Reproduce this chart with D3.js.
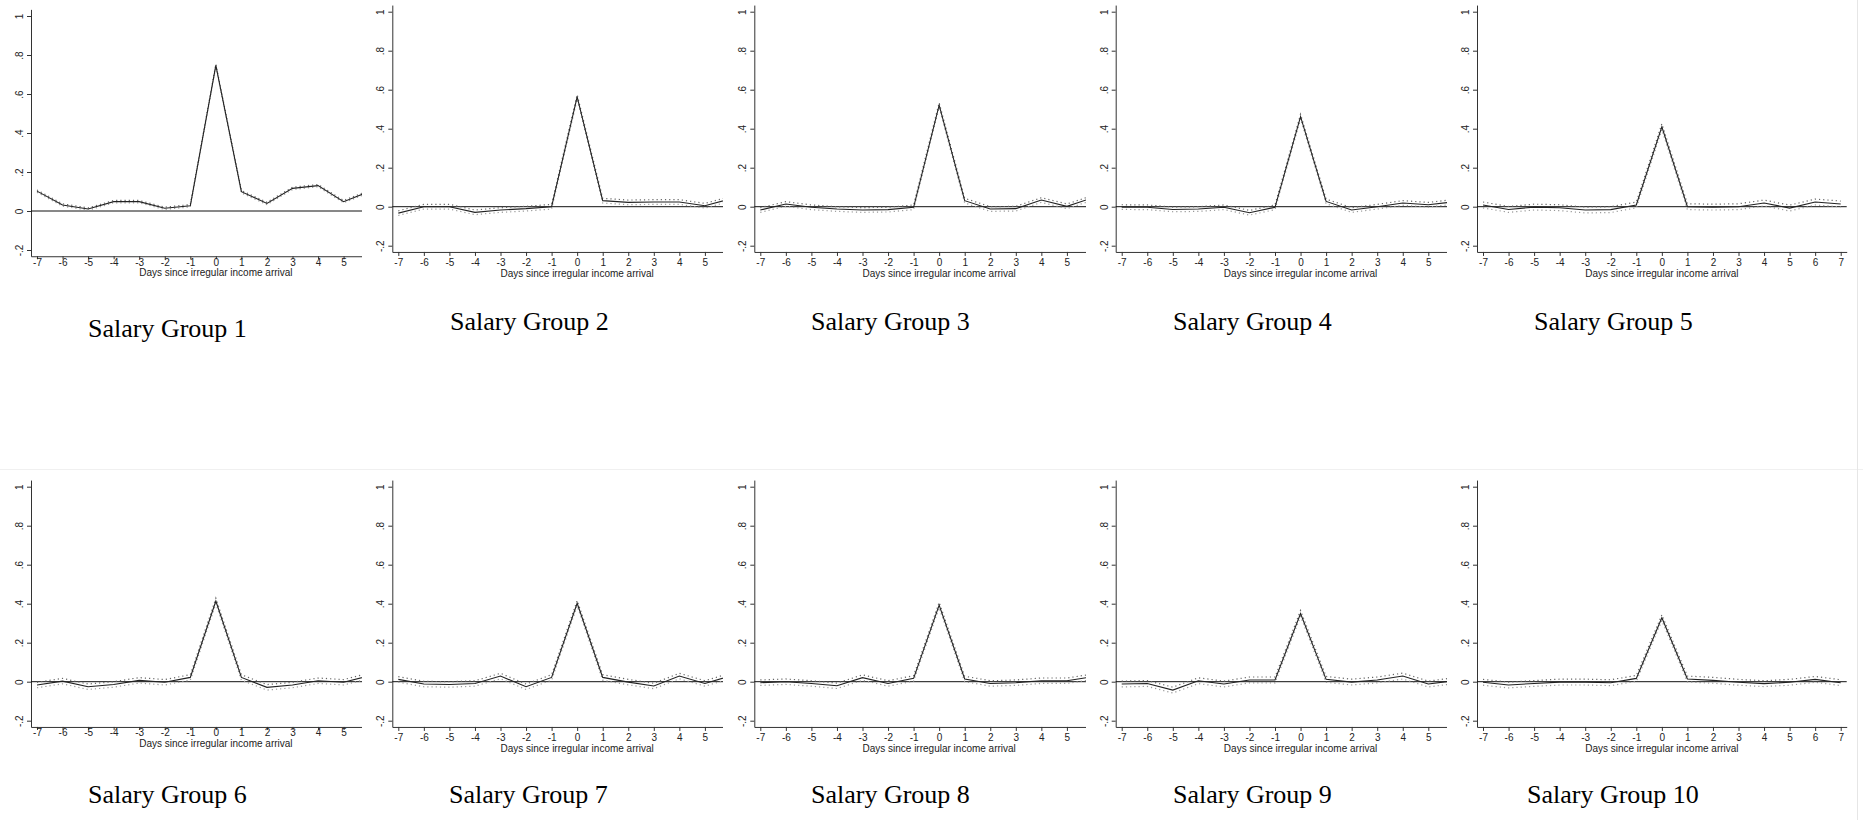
<!DOCTYPE html>
<html>
<head>
<meta charset="utf-8">
<script src="https://cdn.jsdelivr.net/npm/d3@7"></script>
<style>
  body { margin: 0; background: #fff; }
  svg { display: block; }
</style>
</head>
<body>
<svg id="chart" width="1863" height="820"></svg>
<script>
// Event-study coefficients: daily spending response around irregular income arrival,
// one panel per salary group. Estimates and 95% CI half-widths.
const days = [-7, -6, -5, -4, -3, -2, -1, 0, 1, 2, 3, 4, 5, 6, 7];
const groupNames = [
  "Salary Group 1", "Salary Group 2", "Salary Group 3", "Salary Group 4", "Salary Group 5",
  "Salary Group 6", "Salary Group 7", "Salary Group 8", "Salary Group 9", "Salary Group 10"
];
const group1  = [0.102, 0.031, 0.010, 0.048, 0.048, 0.014, 0.027, 0.747, 0.099, 0.039, 0.116, 0.130, 0.048, 0.100];
const group2  = [-0.033, 0.000, 0.000, -0.029, -0.017, -0.010, 0.000, 0.563, 0.031, 0.022, 0.024, 0.024, 0.005, 0.040];
const group3  = [-0.017, 0.014, -0.003, -0.012, -0.017, -0.015, -0.003, 0.521, 0.031, -0.012, -0.010, 0.034, 0.002, 0.045];
const group4  = [-0.002, -0.003, -0.014, -0.012, -0.003, -0.031, -0.003, 0.462, 0.027, -0.017, 0.000, 0.019, 0.010, 0.025];
const group5  = [0.009, -0.014, -0.002, -0.005, -0.017, -0.015, 0.009, 0.410, 0.000, -0.002, 0.000, 0.019, -0.007, 0.024, 0.014];
const group6  = [-0.017, 0.003, -0.026, -0.014, 0.007, -0.003, 0.022, 0.414, 0.022, -0.029, -0.017, 0.005, -0.003, 0.030];
const group7  = [0.012, -0.012, -0.014, -0.009, 0.029, -0.026, 0.022, 0.402, 0.022, -0.002, -0.022, 0.029, -0.009, 0.030];
const group8  = [-0.005, 0.000, -0.009, -0.021, 0.021, -0.009, 0.017, 0.393, 0.014, -0.009, -0.005, 0.005, 0.005, 0.025];
const group9  = [-0.012, -0.009, -0.043, 0.005, -0.012, 0.009, 0.009, 0.350, 0.012, -0.002, 0.009, 0.029, -0.012, 0.005];
const group10 = [-0.003, -0.017, -0.009, -0.002, -0.002, -0.005, 0.017, 0.328, 0.014, 0.007, -0.003, -0.010, -0.003, 0.012, -0.005];
const ciHalfWidth = [0.006, 0.012, 0.012, 0.012, 0.015, 0.014, 0.014, 0.014, 0.015, 0.015];
const yTicks = [-0.2, 0, 0.2, 0.4, 0.6, 0.8, 1];
const yTickLabels = ["-.2", "0", ".2", ".4", ".6", ".8", "1"];
const xAxisTitle = "Days since irregular income arrival";

const estimates = [group1, group2, group3, group4, group5, group6, group7, group8, group9, group10];

// ---- panel geometry ----
const pxPerDay = 25.55;
const pxPerUnit = 195;
const xDomain = [-7.235, 7.235];
const yDomain = [-0.232, 1.034];
const axisX = [31, 392.3, 754.3, 1115.7, 1477];
const clipLeft = [0, 362, 723, 1086, 1447];
const clipRight = [362, 723, 1086, 1447, 1857];
const zeroY = [[211, 206.7, 206.7, 206.7, 206.7], [681.7, 681.7, 681.7, 681.7, 681.7]];
const rowTop = [0, 470];
const rowBottom = [290, 760];
const titleX = [[88, 450, 811, 1173, 1534], [88, 449, 811, 1173, 1527]];
const titleY = [[337, 330, 330, 330, 330], [803, 803, 803, 803, 803]];
// vertical offsets below the x axis: tick length, label baseline, axis-title baseline
const tickLen = [3, 4, 4, 4, 4];
const labelBase = [9.5, 14, 14, 14, 14];
const titleBase = [20, 25, 25, 25, 25];

const svg = d3.select("#chart");
const defs = svg.append("defs");

// faint frame lines between the panel images
svg.append("line").attr("x1", 0).attr("x2", 1863).attr("y1", 469.5).attr("y2", 469.5)
  .attr("stroke", "#f0f0f0").attr("stroke-width", 1);
svg.append("line").attr("x1", 1857.5).attr("x2", 1857.5).attr("y1", 0).attr("y2", 820)
  .attr("stroke", "#e6e6e6").attr("stroke-width", 1);

const sans = "Arial, 'Liberation Sans', sans-serif";

estimates.forEach((vals, i) => {
  const row = Math.floor(i / 5), col = i % 5;
  const ax = axisX[col];
  const z = zeroY[row][col];
  const x = d3.scaleLinear().domain(xDomain).range([ax, ax + (xDomain[1] - xDomain[0]) * pxPerDay]);
  const y = d3.scaleLinear().domain(yDomain)
    .range([z - yDomain[0] * pxPerUnit, z - yDomain[1] * pxPerUnit]);

  const clipId = "clip" + i;
  defs.append("clipPath").attr("id", clipId).append("rect")
    .attr("x", clipLeft[col]).attr("y", rowTop[row])
    .attr("width", clipRight[col] - clipLeft[col]).attr("height", rowBottom[row] - rowTop[row]);

  const g = svg.append("g").attr("clip-path", `url(#${clipId})`);
  const y0 = y(yDomain[0]);

  // x axis
  const xAxis = d3.axisBottom(x).tickValues(days).tickSizeInner(tickLen[col]).tickSizeOuter(0)
    .tickFormat(d => String(d));
  const gx = g.append("g").attr("transform", `translate(0,${y0})`).call(xAxis);
  gx.select(".domain").attr("stroke", "#333");
  gx.selectAll(".tick line").attr("stroke", "#333");
  gx.selectAll(".tick text").attr("y", labelBase[col]).attr("dy", null).attr("fill", "#222")
    .style("font-family", sans).style("font-size", "10px");

  // y axis with rotated labels
  const yAxis = d3.axisLeft(y).tickValues(yTicks).tickSizeInner(4).tickSizeOuter(0)
    .tickFormat((d, k) => yTickLabels[k]);
  const gy = g.append("g").attr("transform", `translate(${ax},0)`).call(yAxis);
  gy.select(".domain").attr("stroke", "#333");
  gy.selectAll(".tick line").attr("stroke", "#333");
  gy.selectAll(".tick text")
    .attr("x", null).attr("dy", null)
    .attr("transform", "translate(-8,0) rotate(-90)")
    .attr("text-anchor", "middle").attr("fill", "#222")
    .style("font-family", sans).style("font-size", "10px");

  // x axis title
  g.append("text")
    .attr("x", x(0)).attr("y", y0 + titleBase[col])
    .attr("text-anchor", "middle").attr("fill", "#222")
    .style("font-family", sans).style("font-size", "10px")
    .text(xAxisTitle);

  // zero reference line
  g.append("line").attr("x1", x(xDomain[0])).attr("x2", x(xDomain[1]))
    .attr("y1", y(0)).attr("y2", y(0)).attr("stroke", "#111").attr("stroke-width", 1);

  const pts = vals.map((v, k) => ({ d: days[k], v }));
  const h = ciHalfWidth[i];
  const line = d3.line().x(p => x(p.d)).y(p => y(p.v));

  // confidence bounds (dotted)
  g.append("path").datum(pts.map(p => ({ d: p.d, v: p.v + h })))
    .attr("d", line).attr("fill", "none").attr("stroke", "#666")
    .attr("stroke-width", 1.2).attr("stroke-dasharray", "1.2,3");
  g.append("path").datum(pts.map(p => ({ d: p.d, v: p.v - h })))
    .attr("d", line).attr("fill", "none").attr("stroke", "#999")
    .attr("stroke-width", 1.2).attr("stroke-dasharray", "1.2,3");

  // point estimate
  g.append("path").datum(pts).attr("d", line)
    .attr("fill", "none").attr("stroke", "#222").attr("stroke-width", 1.1);

  // panel label
  svg.append("text")
    .attr("x", titleX[row][col]).attr("y", titleY[row][col])
    .attr("fill", "#000")
    .style("font-family", "'Times New Roman', 'Liberation Serif', serif").style("font-size", "26px")
    .text(groupNames[i]);
});
</script>
</body>
</html>
